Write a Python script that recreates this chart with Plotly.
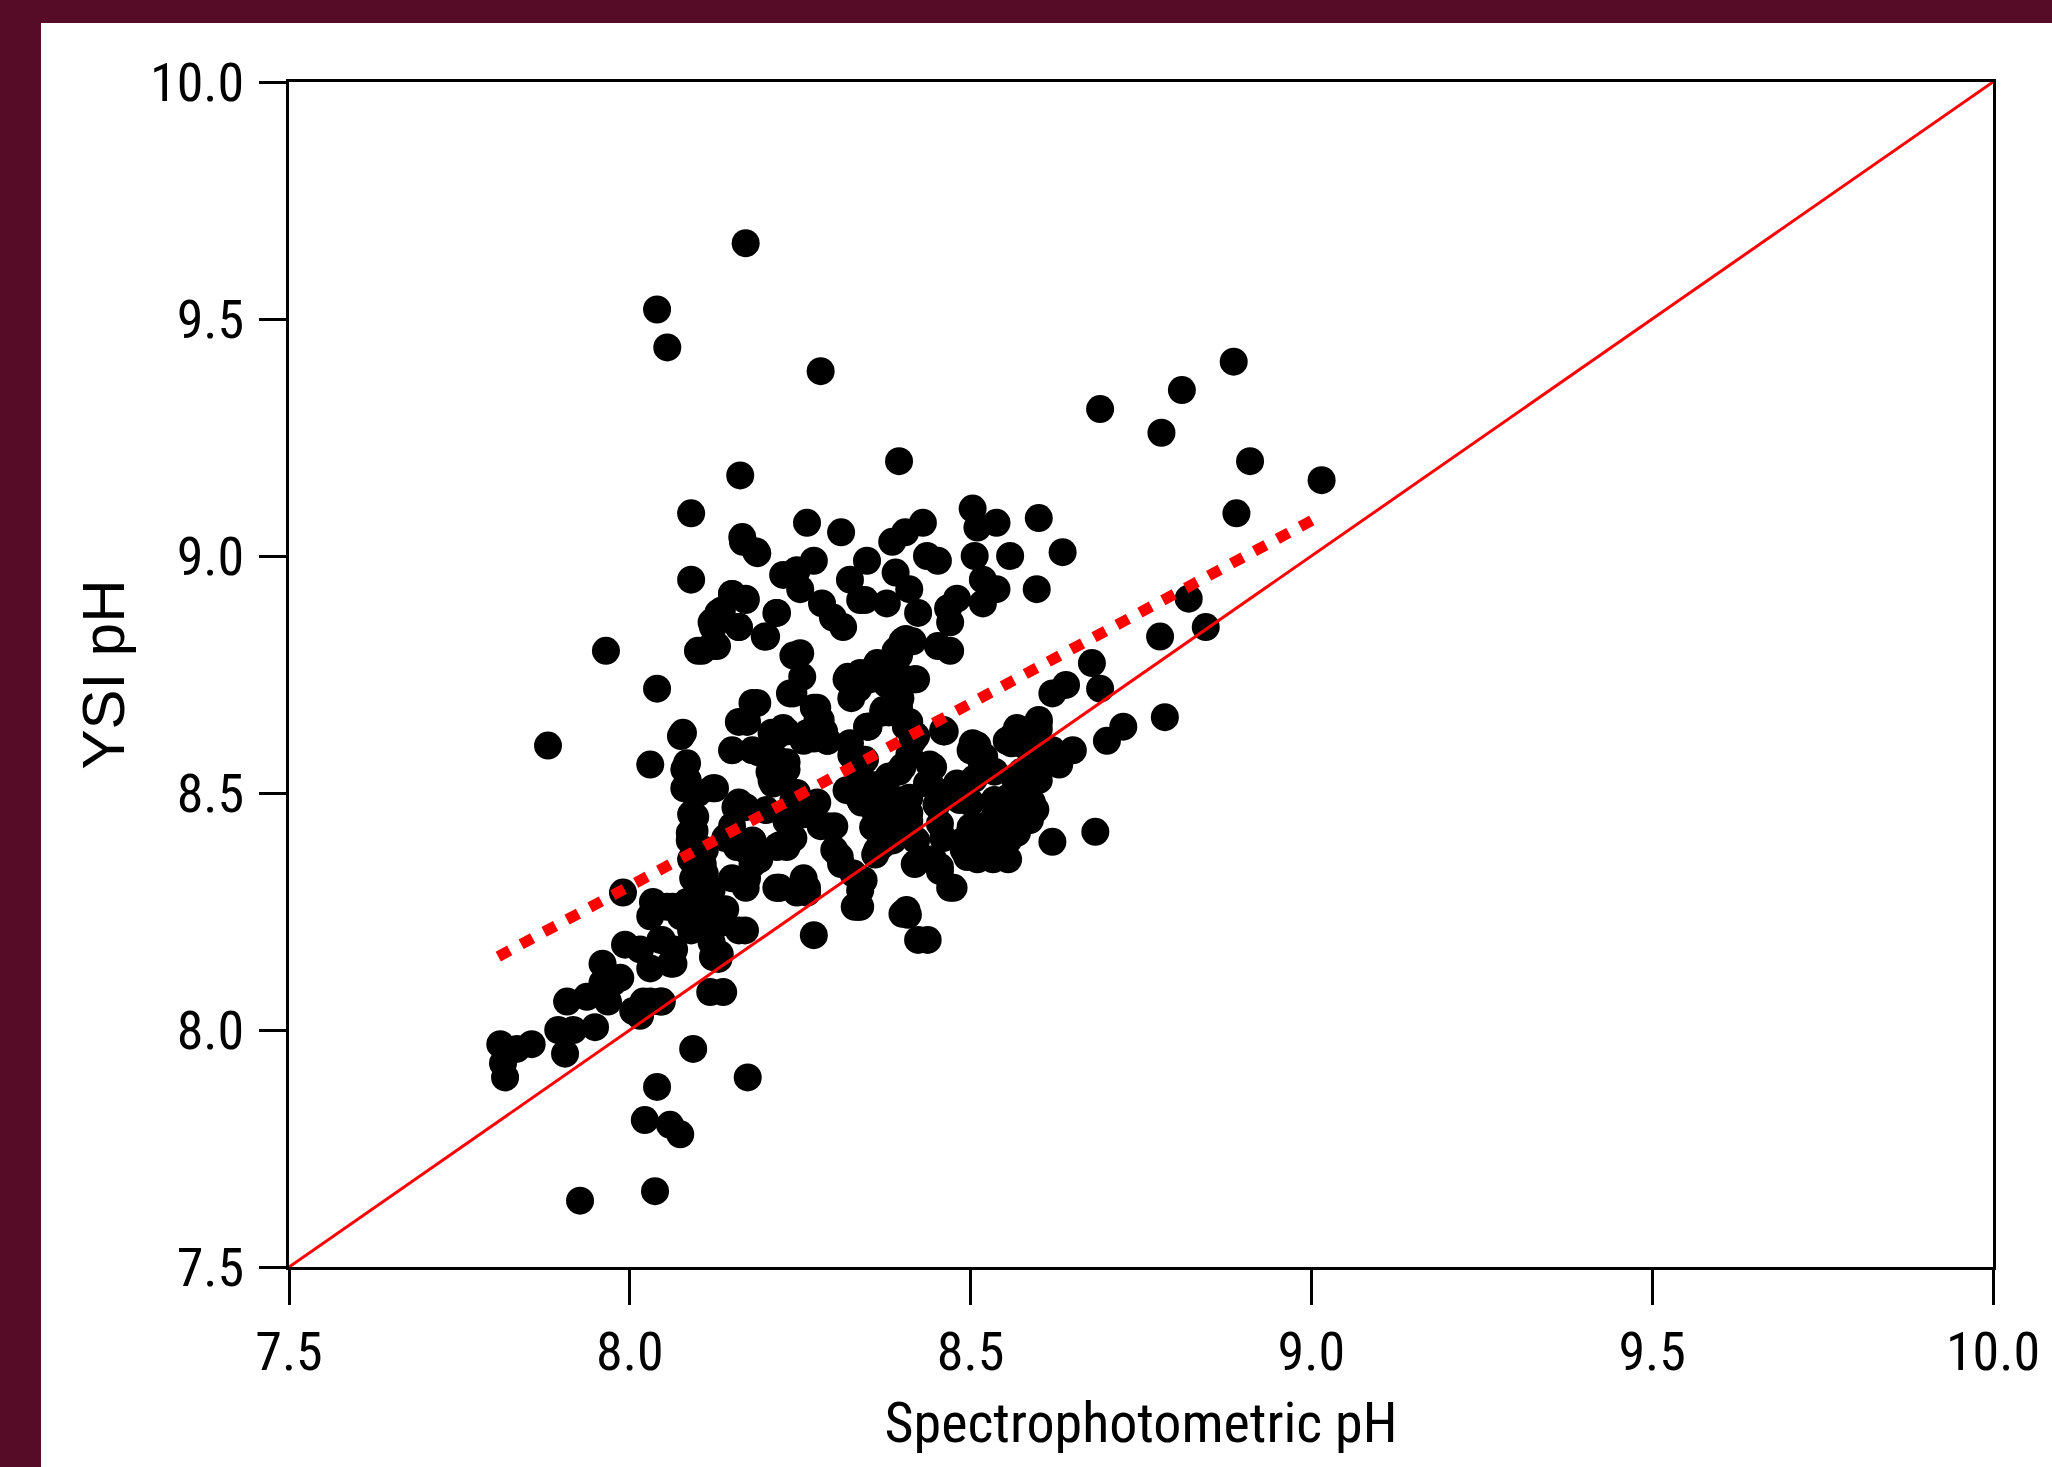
import plotly.graph_objects as go

# ---------------- data ----------------
spec_ph = [
    # outliers / top
    8.17, 8.04, 8.055, 8.28, 8.886, 8.81, 8.69, 8.78, 8.91, 9.015, 8.89, 8.395, 8.162, 8.09, 8.09,
    7.965, 7.88, 8.04, 8.03, 7.99,
    # right side
    8.82, 8.845, 8.778, 8.785, 8.683, 8.678, 8.69, 8.62, 8.64, 8.724, 8.70, 8.65, 8.63, 8.60, 8.568,
    8.56, 8.597, 8.60, 8.62, 8.59, 8.587, 8.568, 8.635, 8.60, 8.597, 8.558,
    # upper centre
    8.503, 8.51, 8.538, 8.506, 8.518, 8.538, 8.518, 8.43, 8.404, 8.385, 8.348, 8.436, 8.452, 8.39, 8.41,
    8.377, 8.345, 8.423, 8.48, 8.467, 8.47, 8.452, 8.47, 8.40, 8.39, 8.418, 8.363, 8.352, 8.377, 8.397,
    8.372, 8.348, 8.41, 8.462,
    # upper left
    8.15, 8.17, 8.13, 8.122, 8.106, 8.128, 8.16, 8.216, 8.198, 8.187, 8.166, 8.225, 8.25, 8.27, 8.245,
    8.282, 8.298, 8.313, 8.323, 8.338, 8.31, 8.26,
    8.25, 8.253, 8.24, 8.187, 8.172, 8.275, 8.28, 8.29, 8.26, 8.225, 8.208, 8.19, 8.216, 8.23, 8.208,
    8.15, 8.078, 8.084, 8.085, 8.088, 8.122, 8.096, 8.088, 8.16, 8.17, 8.19, 8.157, 8.20, 8.24, 8.235,
    8.23, 8.275, 8.28, 8.30, 8.308, 8.328, 8.338, 8.318, 8.328, 8.323, 8.338, 8.35, 8.372, 8.392, 8.406,
    8.40, 8.415, 8.318, 8.338, 8.357, 8.406, 8.415, 8.22, 8.26, 8.216, 8.33, 8.406, 8.18,
    # centre-right cluster
    8.555, 8.533, 8.51, 8.548, 8.518, 8.50, 8.47, 8.455, 8.418, 8.363, 8.343, 8.338, 8.408, 8.423, 8.437,
    8.46, 8.503, 8.518, 8.562, 8.60, 8.52, 8.553, 8.445, 8.46, 8.484, 8.436, 8.40, 8.392, 8.41, 8.367,
    8.348, 8.357, 8.386,
    8.44, 8.44, 8.45, 8.455, 8.46, 8.445, 8.48, 8.49, 8.50, 8.50, 8.51, 8.515, 8.505, 8.535, 8.535,
    8.51, 8.53, 8.555, 8.565, 8.555, 8.565, 8.575, 8.56, 8.57, 8.58, 8.60, 8.595, 8.61, 8.62, 8.63,
    8.58, 8.595, 8.58, 8.555, 8.495, 8.49, 8.535, 8.42, 8.41, 8.405, 8.46, 8.395, 8.38, 8.37, 8.355,
    8.34, 8.36, 8.375, 8.37, 8.36, 8.39, 8.41, 8.41, 8.42, 8.40, 8.475, 8.335, 8.345, 8.325, 8.455,
    # left-middle
    8.245, 8.23, 8.22, 8.24, 8.255, 8.27, 8.29, 8.30, 8.31, 8.255, 8.26, 8.215, 8.27, 8.335, 8.34,
    8.21, 8.205, 8.23, 8.235, 8.24, 8.18, 8.16, 8.18, 8.215, 8.23, 8.255, 8.27, 8.275, 8.285, 8.29,
    8.27, 8.32, 8.335, 8.325, 8.355, 8.37, 8.38, 8.395, 8.405, 8.42, 8.395, 8.38, 8.35, 8.20, 8.215,
    8.12, 8.12, 8.10, 8.135, 8.15, 8.16, 8.17, 8.185, 8.165,
    # lower-left cluster
    7.81, 7.814, 7.817, 7.834, 7.856, 7.895, 7.905, 7.908, 7.917, 7.937, 7.949, 7.96, 7.968, 7.96, 7.986,
    7.993, 8.005, 8.02, 8.015, 8.03, 8.047, 8.047, 8.064, 8.034, 8.063, 8.084, 8.093, 8.088, 8.107, 8.122,
    8.132, 8.122, 8.118, 8.137, 8.132, 8.169, 8.15, 8.172, 8.19, 8.218, 8.23, 8.245, 8.093, 8.173, 8.04,
    8.022, 8.059, 8.074, 7.927, 8.037,
    8.075, 8.09, 8.055, 8.10, 8.11, 8.12, 8.11, 8.12, 8.13, 8.14, 8.15, 8.17, 8.18, 8.17, 8.16,
    8.14, 8.15, 8.16, 8.155, 8.125, 8.10, 8.08, 8.09, 8.095, 8.08, 8.075, 8.09, 8.11, 8.015, 8.03,
    8.045, 8.06, 8.065, 8.045, 8.03, 7.975,
]

ysi_ph = [
    # outliers / top
    9.66, 9.52, 9.44, 9.39, 9.41, 9.35, 9.31, 9.26, 9.20, 9.16, 9.09, 9.20, 9.17, 9.09, 8.95,
    8.80, 8.60, 8.72, 8.56, 8.29,
    # right side
    8.91, 8.85, 8.83, 8.66, 8.418, 8.774, 8.72, 8.71, 8.728, 8.64, 8.61, 8.59, 8.565, 8.65, 8.637,
    8.605, 8.557, 8.527, 8.397, 8.48, 8.443, 8.416, 9.008, 9.08, 8.93, 9.00,
    # upper centre
    9.10, 9.06, 9.07, 9.00, 8.95, 8.93, 8.90, 9.07, 9.05, 9.03, 8.99, 9.00, 8.99, 8.965, 8.93,
    8.90, 8.907, 8.88, 8.91, 8.89, 8.86, 8.81, 8.80, 8.82, 8.80, 8.74, 8.774, 8.74, 8.73, 8.70,
    8.675, 8.64, 8.65, 8.63,
    # upper left
    8.92, 8.907, 8.88, 8.85, 8.80, 8.81, 8.85, 8.88, 8.83, 9.006, 9.03, 8.96, 8.93, 8.99, 8.97,
    8.90, 8.87, 8.85, 8.95, 8.907, 9.05, 9.07,
    8.795, 8.745, 8.71, 8.69, 8.65, 8.68, 8.654, 8.61, 8.626, 8.637, 8.627, 8.585, 8.57, 8.55, 8.527,
    8.59, 8.627, 8.563, 8.527, 8.506, 8.51, 8.45, 8.416, 8.48, 8.47, 8.365, 8.386, 8.464, 8.485, 8.443,
    8.395, 8.48, 8.43, 8.43, 8.365, 8.33, 8.295, 8.506, 8.576, 8.605, 8.485, 8.64, 8.67, 8.70, 8.74,
    8.81, 8.82, 8.74, 8.753, 8.76, 8.65, 8.61, 8.30, 8.30, 8.386, 8.26, 8.253, 8.40,
    # centre-right cluster
    8.36, 8.36, 8.36, 8.40, 8.407, 8.428, 8.30, 8.344, 8.35, 8.38, 8.316, 8.26, 8.243, 8.19, 8.19,
    8.633, 8.605, 8.57, 8.62, 8.654, 8.576, 8.61, 8.555, 8.50, 8.485, 8.52, 8.555, 8.485, 8.458, 8.485,
    8.52, 8.428, 8.40,
    8.56, 8.52, 8.475, 8.435, 8.405, 8.36, 8.52, 8.40, 8.48, 8.59, 8.60, 8.57, 8.53, 8.485, 8.45,
    8.43, 8.39, 8.40, 8.43, 8.49, 8.53, 8.545, 8.61, 8.61, 8.60, 8.635, 8.58, 8.575, 8.59, 8.56,
    8.485, 8.465, 8.44, 8.465, 8.365, 8.38, 8.545, 8.62, 8.58, 8.64, 8.63, 8.545, 8.535, 8.52, 8.50,
    8.48, 8.46, 8.43, 8.39, 8.37, 8.46, 8.49, 8.44, 8.40, 8.245, 8.30, 8.52, 8.57, 8.58, 8.335,
    # left-middle
    8.50, 8.44, 8.39, 8.405, 8.455, 8.47, 8.43, 8.38, 8.35, 8.32, 8.29, 8.30, 8.20, 8.26, 8.31,
    8.52, 8.545, 8.565, 8.71, 8.79, 8.69, 8.65, 8.59, 8.62, 8.63, 8.61, 8.68, 8.65, 8.63, 8.61,
    8.615, 8.745, 8.72, 8.70, 8.745, 8.765, 8.75, 8.79, 8.825, 8.74, 8.68, 8.67, 8.64, 8.83, 8.88,
    8.86, 8.81, 8.80, 8.885, 8.92, 8.85, 8.91, 9.01, 9.04,
    # lower-left cluster
    7.97, 7.93, 7.90, 7.96, 7.97, 8.00, 7.95, 8.06, 8.00, 8.07, 8.006, 8.14, 8.06, 8.10, 8.11,
    8.18, 8.04, 8.06, 8.17, 8.13, 8.06, 8.19, 8.14, 8.27, 8.26, 8.27, 8.32, 8.40, 8.35, 8.25,
    8.225, 8.154, 8.08, 8.08, 8.16, 8.21, 8.40, 8.32, 8.36, 8.30, 8.386, 8.29, 7.96, 7.90, 7.88,
    7.81, 7.80, 7.78, 7.64, 7.66,
    8.24, 8.21, 8.26, 8.27, 8.33, 8.295, 8.225, 8.185, 8.15, 8.255, 8.32, 8.38, 8.35, 8.30, 8.21,
    8.405, 8.43, 8.475, 8.47, 8.51, 8.50, 8.51, 8.455, 8.42, 8.55, 8.62, 8.36, 8.38, 8.03, 8.06,
    8.06, 8.14, 8.17, 8.19, 8.24, 8.10,
]

# 1:1 reference line and least-squares fit
one_to_one_x = [7.5, 10.0]
one_to_one_y = [7.5, 10.0]
fit_x = [7.807, 9.011]
fit_y = [8.155, 9.083]

x_ticks = [7.5, 8.0, 8.5, 9.0, 9.5, 10.0]
y_ticks = [7.5, 8.0, 8.5, 9.0, 9.5, 10.0]
x_title = "Spectrophotometric pH"
y_title = "YSI pH"

# ---------------- figure ----------------
W, H = 2052, 1467
L, R, T, B = 289, 59, 82, 200
pw, ph = W - L - R, H - T - B

fig = go.Figure()
fig.add_trace(go.Scatter(
    x=spec_ph, y=ysi_ph, mode="markers",
    marker=dict(symbol="circle", size=28, color="black", line=dict(width=0)),
    showlegend=False, hoverinfo="x+y",
))
fig.add_trace(go.Scatter(
    x=one_to_one_x, y=one_to_one_y, mode="lines",
    line=dict(color="#ff0000", width=3), showlegend=False,
))
fig.add_trace(go.Scatter(
    x=fit_x, y=fit_y, mode="lines",
    line=dict(color="#ff0000", width=11, dash="13px,13px"), showlegend=False,
))

narrow = "Roboto Condensed, Liberation Sans Narrow, Arial Narrow, sans-serif"
tick_font = dict(family=narrow, size=54, color="black")

fig.update_layout(
    width=W, height=H,
    margin=dict(l=L, r=R, t=T, b=B, pad=0),
    paper_bgcolor="white", plot_bgcolor="white",
    xaxis=dict(
        range=[7.5, 10.0], tickvals=x_ticks, ticktext=[f"{v:.1f}" for v in x_ticks],
        showgrid=False, zeroline=False, showline=True, linecolor="black", linewidth=3, mirror=True,
        ticks="outside", ticklen=35, tickwidth=3, tickcolor="black",
        tickfont=tick_font,
        title=dict(text=x_title, font=dict(family=narrow, size=56, color="black"), standoff=22),
    ),
    yaxis=dict(
        range=[7.5, 10.0], tickvals=y_ticks, ticktext=[f"{v:.1f}" for v in y_ticks],
        showgrid=False, zeroline=False, showline=True, linecolor="black", linewidth=3, mirror=True,
        ticks="outside", ticklen=27, tickwidth=3, tickcolor="black",
        tickfont=tick_font, ticklabelstandoff=4,
        title=dict(text=y_title, font=dict(family="Liberation Sans, Arial, sans-serif", size=60, color="black"), standoff=6),
    ),
    shapes=[
        dict(type="rect", xref="paper", yref="paper", layer="below",
             x0=-L / pw, x1=(41 - L) / pw, y0=-B / ph, y1=1 + T / ph,
             fillcolor="#560c27", line=dict(width=0)),
        dict(type="rect", xref="paper", yref="paper", layer="below",
             x0=-L / pw, x1=1 + R / pw, y0=1 + (T - 23) / ph, y1=1 + T / ph,
             fillcolor="#560c27", line=dict(width=0)),
    ],
)

fig.write_html("out.html", config={"displayModeBar": False},
               post_script="document.body.style.margin='0';")
